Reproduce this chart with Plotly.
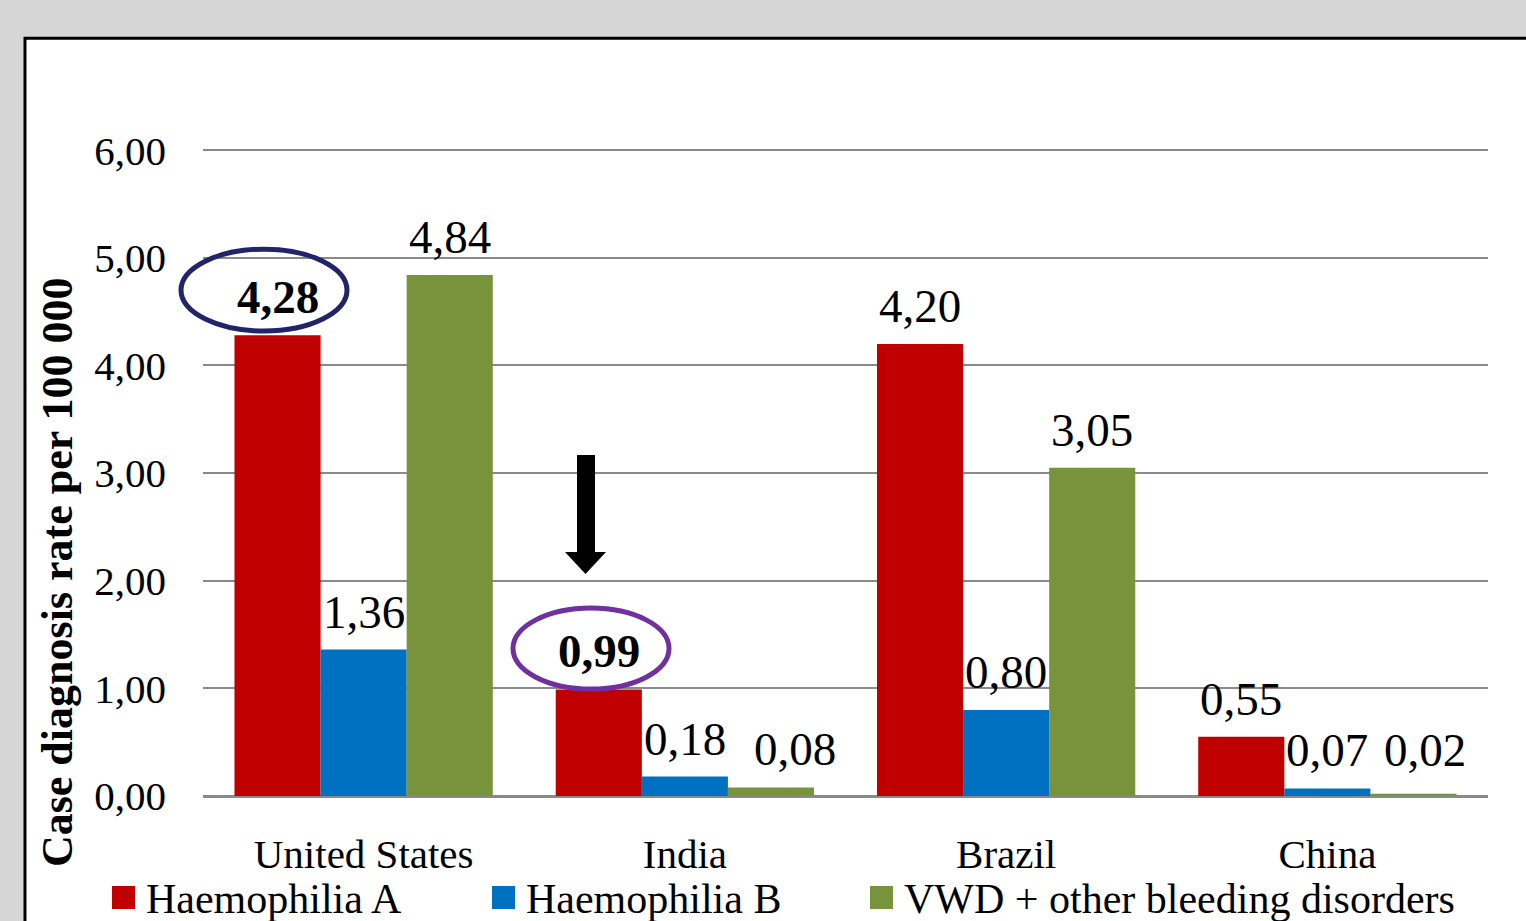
import plotly.graph_objects as go

# ---------------- data ----------------
categories = ["United States", "India", "Brazil", "China"]
series_names = ["Haemophilia A", "Haemophilia B", "VWD + other bleeding disorders"]
haemophilia_a = [4.28, 0.99, 4.20, 0.55]
haemophilia_b = [1.36, 0.18, 0.80, 0.07]
vwd_other = [4.84, 0.08, 3.05, 0.02]
y_tick_values = [0, 1, 2, 3, 4, 5, 6]
y_tick_labels = ["0,00", "1,00", "2,00", "3,00", "4,00", "5,00", "6,00"]
y_title = "Case diagnosis rate per 100 000"
highlighted = {(0, 0), (1, 0)}  # (category index, series index) shown in bold

# ---------------- style ----------------
colors = ["#C00000", "#0070C0", "#77933C"]
FONT = "Liberation Serif"
W, H = 1526, 921
Y_MAX = 6.02
L, R, B = 203, 1488, 796           # plot area in pixels
PX_PER_UNIT = (796 - 150) / 6.0
T = B - Y_MAX * PX_PER_UNIT


def X(px):
    return (px - L) / (R - L)


def Y(py):
    return (B - py) / (B - T)


def fmt(v):
    return f"{v:.2f}".replace(".", ",")


series = [haemophilia_a, haemophilia_b, vwd_other]

fig = go.Figure()
for name, vals, col in zip(series_names, series, colors):
    fig.add_trace(go.Bar(x=categories, y=vals, name=name, marker_color=col,
                         marker_line_width=0, showlegend=False))

bargap = 0.196
group_px = (R - L) / len(categories)
bar_px = group_px * (1 - bargap) / len(series)
label_nudge_x = {(1, 2): 24, (3, 2): 12}
label_nudge_y = {(3, 2): 6}

annotations = []
for si, vals in enumerate(series):
    for ci, v in enumerate(vals):
        txt = fmt(v)
        if (ci, si) in highlighted:
            txt = f"<b>{txt}</b>"
        annotations.append(dict(
            x=categories[ci], y=v, xref="x", yref="y",
            xshift=(si - 1) * bar_px + label_nudge_x.get((ci, si), 0),
            yshift=38 + label_nudge_y.get((ci, si), 0),
            yanchor="middle", xanchor="center",
            text=txt, showarrow=False,
            font=dict(family=FONT, size=47, color="black")))

# y axis title
annotations.append(dict(x=X(57), y=Y(572), xref="paper", yref="paper",
                        text=f"<b>{y_title}</b>", textangle=-90, showarrow=False,
                        xanchor="center", yanchor="middle",
                        font=dict(family=FONT, size=44, color="black")))

# manual legend
legend_pos = [112, 492, 870]
shapes = []
# white chart box with black border
shapes.append(dict(type="rect", xref="paper", yref="paper",
                   x0=X(25), x1=X(1560), y0=Y(960), y1=Y(38),
                   fillcolor="white", line=dict(color="black", width=3),
                   layer="below"))
for name, col, px0 in zip(series_names, colors, legend_pos):
    shapes.append(dict(type="rect", xref="paper", yref="paper",
                       x0=X(px0), x1=X(px0 + 23), y0=Y(909), y1=Y(886),
                       fillcolor=col, line=dict(width=0)))
    annotations.append(dict(x=X(px0 + 32), y=Y(899), xref="paper", yref="paper",
                            text=name, showarrow=False, xanchor="left",
                            yanchor="middle",
                            font=dict(family=FONT, size=42, color="black")))

# highlight ellipses
shapes.append(dict(type="circle", xref="paper", yref="paper",
                   x0=X(181), x1=X(347), y0=Y(331), y1=Y(249),
                   line=dict(color="#22246A", width=5)))
shapes.append(dict(type="circle", xref="paper", yref="paper",
                   x0=X(513), x1=X(669), y0=Y(689), y1=Y(608),
                   line=dict(color="#7030A0", width=5)))
# arrow
shapes.append(dict(type="rect", xref="paper", yref="paper",
                   x0=X(577), x1=X(595), y0=Y(553), y1=Y(455),
                   fillcolor="black", line=dict(width=0)))
shapes.append(dict(type="path", xref="paper", yref="paper",
                   path=f"M {X(565)},{Y(552)} L {X(606)},{Y(552)} L {X(585.5)},{Y(574)} Z",
                   fillcolor="black", line=dict(width=0)))

fig.update_layout(
    width=W, height=H, autosize=False,
    margin=dict(l=L, r=W - R, t=T, b=H - B, pad=0),
    paper_bgcolor="#d6d6d6", plot_bgcolor="white",
    barmode="group", bargap=bargap, bargroupgap=0,
    font=dict(family=FONT, color="black"),
    annotations=annotations, shapes=shapes,
    showlegend=False,
)
fig.update_xaxes(showgrid=False, showline=False, ticks="",
                 tickfont=dict(family=FONT, size=41, color="black"),
                 ticklabelstandoff=30)
fig.update_yaxes(range=[0, Y_MAX], tickvals=y_tick_values, ticktext=y_tick_labels,
                 showgrid=True, gridcolor="#8a8a8a", gridwidth=2,
                 zeroline=True, zerolinecolor="#8a8a8a", zerolinewidth=2.5,
                 showline=False, ticks="",
                 tickfont=dict(family=FONT, size=41, color="black"),
                 ticklabelstandoff=36)

fig.write_html("out.html")
